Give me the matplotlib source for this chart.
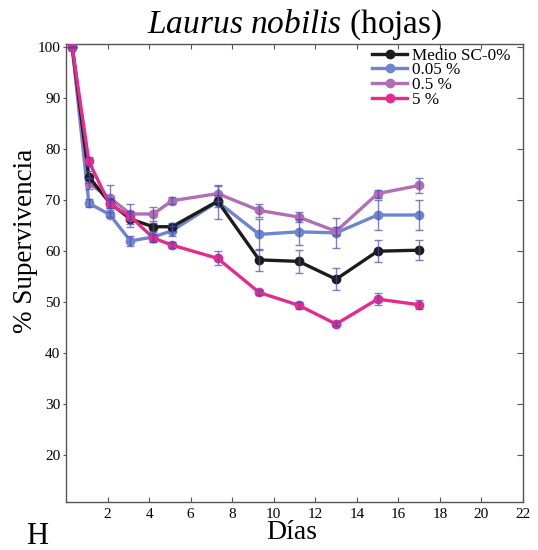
import matplotlib
matplotlib.use("Agg")
import matplotlib.pyplot as plt

plt.rcParams['font.family'] = ['Liberation Serif', 'DejaVu Serif']
plt.rcParams['mathtext.fontset'] = 'custom'
plt.rcParams['mathtext.rm'] = 'Liberation Serif'
plt.rcParams['mathtext.it'] = 'Liberation Serif:italic'

# Sampling days and survival (%) per treatment, with error half-widths
days = [0.3, 1.1, 2.1, 3.1, 4.2, 5.1, 7.3, 9.3, 11.2, 13.0, 15.0, 17.0]

medio = [100, 74.6, 69.5, 66.3, 64.8, 64.8, 69.8, 58.3, 58.0, 54.5, 60.0, 60.2]
err_medio = [0, 1.2, 1.0, 1.5, 0.8, 0.8, 1.2, 2.2, 2.2, 2.2, 2.1, 2.0]

c005 = [100, 69.4, 67.2, 62.0, 62.8, 64.0, 69.7, 63.3, 63.8, 63.6, 67.1, 67.1]
err_c005 = [0, 0.8, 0.5, 0.9, 1.0, 1.0, 3.3, 3.0, 2.5, 3.0, 2.9, 2.9]

c05 = [100, 73.3, 70.5, 67.3, 67.3, 69.9, 71.3, 68.0, 66.7, 63.9, 71.3, 72.9]
err_c05 = [0, 1.0, 2.4, 2.0, 1.4, 0.7, 1.5, 1.2, 1.0, 0.8, 0.8, 1.5]

c5 = [100, 77.6, 69.2, 66.8, 62.6, 61.2, 58.6, 51.9, 49.4, 45.7, 50.6, 49.5]
err_c5 = [0, 0.8, 0.8, 0.8, 0.8, 0.6, 1.4, 0.5, 0.7, 0.4, 1.2, 0.9]

labels = ['Medio SC-0%', '0.05 %', '0.5 %', '5 %']
colors = ['#1c1c1c', '#6f84cf', '#b06fb3', '#e62b8e']
series = [medio, c005, c05, c5]
errors = [err_medio, err_c005, err_c05, err_c5]
draw_order = [1, 2, 0, 3]

x_ticks = list(range(2, 23, 2))
y_ticks = list(range(20, 101, 10))

fig = plt.figure(figsize=(5.38, 5.5), dpi=100)
ax = fig.add_axes([0.1227, 0.0873, 0.8495, 0.8327])

handles = {}
for z, i in enumerate(draw_order):
    ln, = ax.plot(days, series[i], color=colors[i], lw=2.4, marker='o',
                  ms=6, mec=colors[i], mfc=colors[i], zorder=2 + z,
                  label=labels[i])
    handles[i] = ln
for i in draw_order:
    ax.errorbar(days, series[i], yerr=errors[i], fmt='none',
                ecolor='#4a4ab4', alpha=0.7, elinewidth=1.0, capsize=3,
                capthick=1.0, zorder=10)

ax.set_xlim(0, 22)
ax.set_ylim(10.8, 100.65)
ax.set_xticks(x_ticks)
ax.set_yticks(y_ticks)

for s in ax.spines.values():
    s.set_color('#555555')
    s.set_linewidth(1.0)

ax.tick_params(axis='x', direction='in', top=True, length=3.5, width=0.8,
               color='#555555', labelsize=11, pad=4)
ax.tick_params(axis='y', direction='out', length=2.5, width=0.8,
               color='#555555', labelsize=11, pad=1.5)
ax.tick_params(axis='y', which='major', right=True)
for t in ax.yaxis.get_ticklines()[1::2]:
    t.set_marker(0)
    t.set_markersize(4)

ax.set_title(r'$Laurus\ nobilis$ (hojas)', fontsize=24, pad=8)
ax.set_ylabel('% Supervivencia', fontsize=19.5)
ax.yaxis.set_label_coords(-0.061, 0.57)
ax.set_xlabel('Días', fontsize=20)
ax.xaxis.set_label_coords(0.494, -0.039)

fig.text(36.8 / 538, 1 - 544 / 550, 'H', fontsize=22, ha='center', va='baseline')

leg = ax.legend([handles[i] for i in range(4)], labels, loc='upper right',
                bbox_to_anchor=(0.972, 0.992), frameon=False, fontsize=12.3,
                handlelength=2.0, handletextpad=0.3, labelspacing=-0.07,
                borderpad=0, borderaxespad=0)

fig.savefig('out.png', dpi=100)
